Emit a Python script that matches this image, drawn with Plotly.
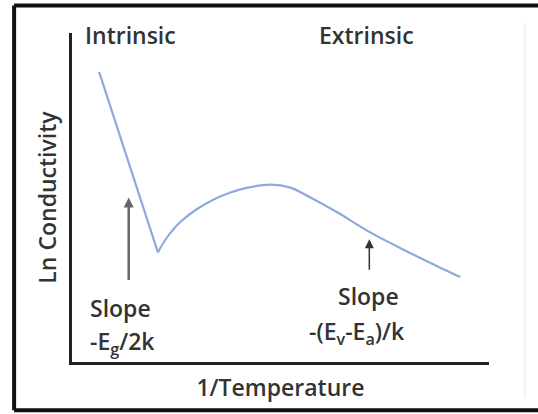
import plotly.graph_objects as go

# Schematic conductivity curve: ln(sigma) against 1/T (arbitrary units)
inv_temp = [0.65, 2.06, 2.20, 2.37, 2.61, 3.00, 3.40, 3.80, 4.21, 4.76,
            5.24, 5.72, 6.36, 7.15, 7.94, 8.76, 9.31]
ln_sigma = [8.82, 3.33, 3.64, 3.94, 4.27, 4.65, 4.94, 5.15, 5.30, 5.39,
            5.30, 5.00, 4.55, 3.94, 3.42, 2.91, 2.58]

region_labels = ["Intrinsic", "Extrinsic"]
slope_labels = ["-E<sub>g</sub>/2k", "-(E<sub>v</sub>-E<sub>a</sub>)/k"]
x_title = "1/Temperature"
y_title = "Ln Conductivity"

# arrows pointing at the two slope regions: (x, tip y, tail y)
arrow_intrinsic = (1.36, 5.0, 2.45)
arrow_extrinsic = (7.13, 3.73, 2.76)

LINE = "#8eaadb"
TEXT = "#333333"
FONT = "Open Sans"
SIZE = 23
WEIGHT = 600


def text_font():
    return dict(size=SIZE, color=TEXT, family=FONT, weight=WEIGHT)


def label(text, x, y, xanchor="center"):
    return dict(text=text, x=x, y=y, xref="paper", yref="paper",
                xanchor=xanchor, yanchor="middle", showarrow=False,
                font=text_font())


fig = go.Figure()
# straight intrinsic branch down to the minimum
fig.add_trace(go.Scatter(x=inv_temp[:2], y=ln_sigma[:2], mode="lines",
                         line=dict(color=LINE, width=2.2), hoverinfo="skip"))
# smooth extrinsic branch from the minimum onwards
fig.add_trace(go.Scatter(x=inv_temp[1:], y=ln_sigma[1:], mode="lines",
                         line=dict(color=LINE, width=2.2, shape="spline", smoothing=0.8),
                         hoverinfo="skip"))

annotations = [
    label(region_labels[0], 0.141, 0.995),
    label(region_labels[1], 0.706, 0.995),
    label("Slope", 0.038, 0.164, xanchor="left"),
    label(slope_labels[0], 0.038, 0.058, xanchor="left"),
    label("Slope", 0.711, 0.20),
    label(slope_labels[1], 0.684, 0.091),
    dict(text="", x=arrow_intrinsic[0], y=arrow_intrinsic[1],
         ax=arrow_intrinsic[0], ay=arrow_intrinsic[2], xref="x", yref="y",
         axref="x", ayref="y", showarrow=True, arrowhead=2, arrowsize=0.8,
         arrowwidth=2.5, arrowcolor="#666666"),
    dict(text="", x=arrow_extrinsic[0], y=arrow_extrinsic[1],
         ax=arrow_extrinsic[0], ay=arrow_extrinsic[2], xref="x", yref="y",
         axref="x", ayref="y", showarrow=True, arrowhead=2, arrowsize=1.2,
         arrowwidth=1.5, arrowcolor="#333333"),
]

# picture frame (open on the right, with a faint edge line)
shapes = [
    dict(type="line", xref="paper", yref="paper", x0=-0.1388, x1=1.2, y0=1.0833, y1=1.0833,
         line=dict(color="#111111", width=4)),
    dict(type="line", xref="paper", yref="paper", x0=-0.1388, x1=-0.1388, y0=1.0833, y1=-0.147,
         line=dict(color="#111111", width=4)),
    dict(type="line", xref="paper", yref="paper", x0=-0.1388, x1=1.2, y0=-0.147, y1=-0.147,
         line=dict(color="#111111", width=4)),
    dict(type="line", xref="paper", yref="paper", x0=1.0861, x1=1.0861, y0=1.03, y1=-0.11,
         line=dict(color="#e6e6e6", width=1)),
]

axis_common = dict(range=[0, 10], showgrid=False, zeroline=False, showticklabels=False,
                   ticks="", showline=True, linewidth=3, linecolor="#222222", fixedrange=True)

fig.update_layout(
    width=538, height=414,
    margin=dict(l=72, r=49, t=33, b=52),
    paper_bgcolor="white", plot_bgcolor="white",
    showlegend=False,
    xaxis=dict(**axis_common, title=dict(text=x_title, standoff=16, font=text_font())),
    yaxis=dict(**axis_common, title=dict(text=y_title, standoff=6, font=text_font())),
    annotations=annotations,
    shapes=shapes,
)

fig.write_html("out.html")
